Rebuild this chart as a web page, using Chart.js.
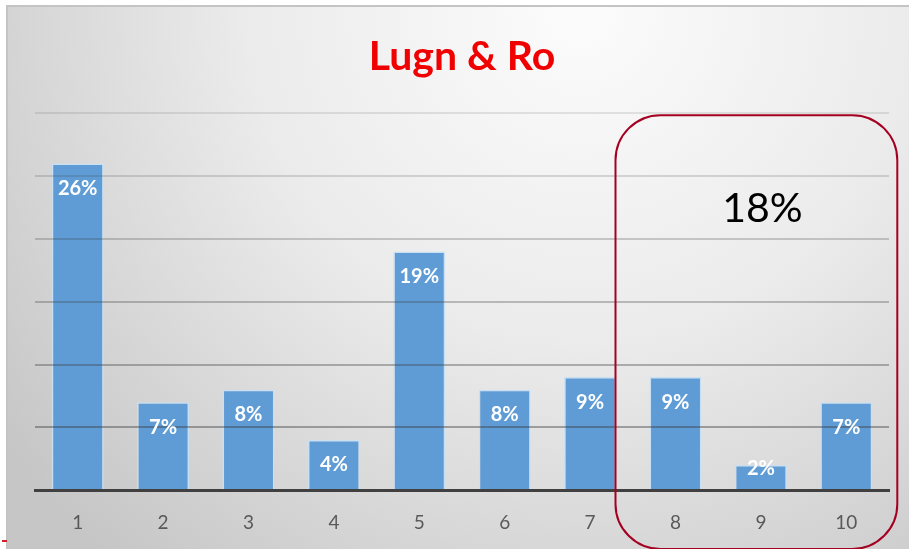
<!DOCTYPE html>
<html>
<head>
<meta charset="utf-8">
<script src="https://cdn.jsdelivr.net/npm/chart.js@4.4.1/dist/chart.umd.min.js"></script>
<style>
  html, body { margin: 0; padding: 0; background: #ffffff; }
  #wrap { width: 909px; height: 549px; position: relative; }
</style>
</head>
<body>
<div id="wrap"><canvas id="grafico"></canvas></div>
<script>
// Data
const kategorier = ['1', '2', '3', '4', '5', '6', '7', '8', '9', '10'];
const andelar = [26, 7, 8, 4, 19, 8, 9, 9, 2, 7];
const markeradText = '18%';

// Bakgrund med ljus gradient och ram
const bakgrund = {
    id: 'bakgrund',
    beforeDraw(chart) {
        const ctx = chart.ctx;
        ctx.save();
        const g = ctx.createRadialGradient(580, 10, 20, 580, 10, 720);
        g.addColorStop(0, '#fbfbfb');
        g.addColorStop(0.45, '#ebebeb');
        g.addColorStop(1, '#c6c6c6');
        ctx.fillStyle = g;
        ctx.fillRect(7, 6, chart.width - 7, chart.height - 6);
        ctx.strokeStyle = '#c4c4c4';
        ctx.lineWidth = 2;
        ctx.beginPath();
        ctx.moveTo(7, chart.height);
        ctx.lineTo(7, 6);
        ctx.lineTo(chart.width, 6);
        ctx.stroke();
        // liten röd markering nere till vänster
        ctx.fillStyle = '#d0202a';
        ctx.fillRect(2, 540, 5, 2);
        ctx.restore();
    }
};

// Etiketter i staplarna
const etiketter = {
    id: 'etiketter',
    afterDraw(chart) {
        const ctx = chart.ctx;
        const meta = chart.getDatasetMeta(0);
        ctx.save();
        ctx.fillStyle = '#ffffff';
        ctx.font = 'bold 20px Lato';
        ctx.textAlign = 'center';
        ctx.textBaseline = 'middle';
        meta.data.forEach((bar, i) => {
            const hojd = bar.base - bar.y;
            const y = hojd < 40 ? bar.y + 3 : bar.y + 25;
            ctx.fillText(andelar[i] + '%', bar.x, y);
        });

        // Markering runt de sista staplarna
        const x = chart.scales.x;
        const vanster = x.getPixelForValue(7) - 60;
        const hoger = x.getPixelForValue(9) + 51;
        const topp = chart.chartArea.top + 2;
        const botten = chart.height + 0;
        const r = 45;
        ctx.strokeStyle = '#a50021';
        ctx.lineWidth = 2;
        ctx.beginPath();
        ctx.roundRect(vanster, topp, hoger - vanster, botten - topp, r);
        ctx.stroke();

        ctx.fillStyle = '#000000';
        ctx.font = '41px Lato';
        ctx.fillText(markeradText, (vanster + hoger) / 2 + 6, 209);
        ctx.restore();
    }
};

new Chart(document.getElementById('grafico'), {
    type: 'bar',
    data: {
        labels: kategorier,
        datasets: [{
            data: andelar,
            backgroundColor: '#5f9cd6',
            borderColor: '#c9e0f4',
            borderWidth: 1.5,
            barPercentage: 0.76,
            categoryPercentage: 0.8
        }]
    },
    options: {
        responsive: true,
        maintainAspectRatio: false,
        animation: false,
        layout: {
            padding: { left: 35, right: 20, top: 0, bottom: 2 }
        },
        plugins: {
            legend: { display: false },
            tooltip: { enabled: false },
            title: {
                display: true,
                text: 'Lugn & Ro',
                color: '#f00000',
                font: { family: 'Lato', size: 41, weight: 'bold' },
                padding: { top: 32, bottom: 32 }
            }
        },
        scales: {
            y: {
                min: 0,
                max: 30,
                ticks: { display: false, stepSize: 5 },
                border: { display: false },
                grid: {
                    z: 1,
                    drawTicks: false,
                    lineWidth: 2,
                    color: function(context) {
                        const v = context.tick.value;
                        if (v === 0) return 'rgba(0,0,0,0)';
                        const a = 0.12 + (30 - v) / 25 * 0.3;
                        return 'rgba(60,60,60,' + a.toFixed(2) + ')';
                    }
                }
            },
            x: {
                grid: { display: false },
                border: { color: '#404040', width: 3, z: 2 },
                ticks: {
                    color: '#595959',
                    font: { family: 'Lato', size: 19 },
                    padding: 13
                }
            }
        }
    },
    plugins: [bakgrund, etiketter]
});
</script>
</body>
</html>
